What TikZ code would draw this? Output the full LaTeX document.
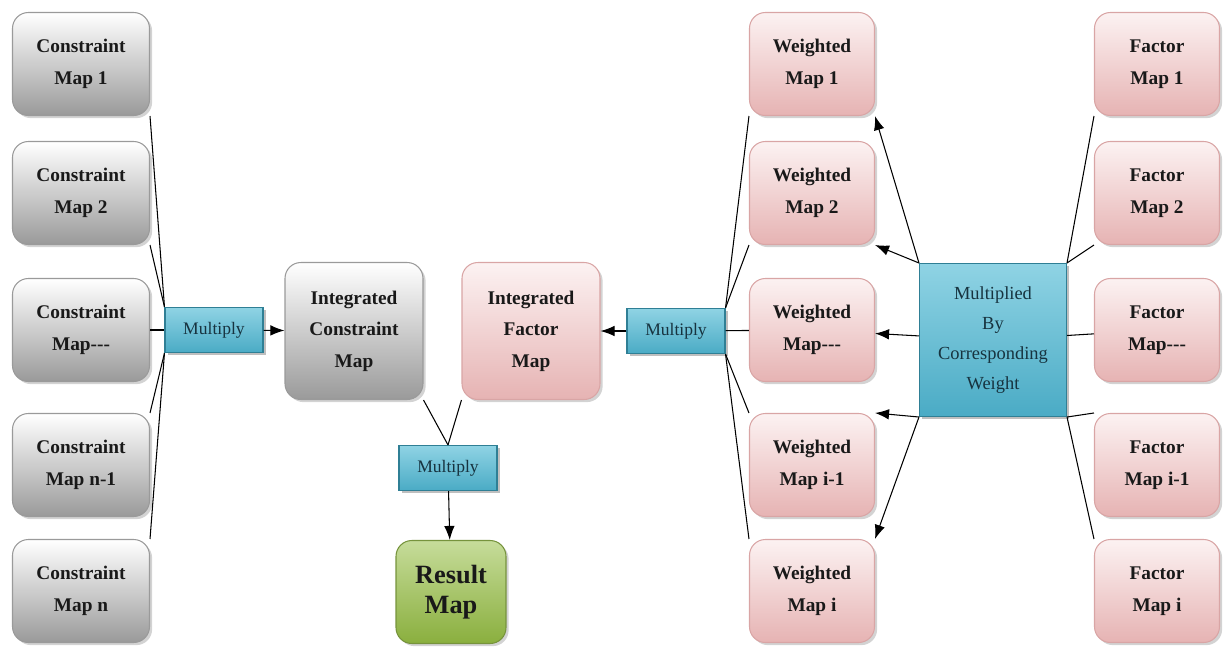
\documentclass[tikz,border=0pt]{standalone}
\usepackage{fontspec}
\setmainfont{Liberation Serif}
\usetikzlibrary{shadows,arrows.meta}

\definecolor{consedge}{HTML}{9A9A9A}
\definecolor{consbot}{HTML}{9A9A9A}
\definecolor{factop}{HTML}{FCF2F2}
\definecolor{facbot}{HTML}{E6B3B3}
\definecolor{facedge}{HTML}{D9A5A5}
\definecolor{multtop}{HTML}{8FD3E4}
\definecolor{multbot}{HTML}{4AABC5}
\definecolor{multedge}{HTML}{2F7F95}
\definecolor{multtext}{HTML}{17333F}
\definecolor{restop}{HTML}{C6DC9A}
\definecolor{resbot}{HTML}{8AAF3E}
\definecolor{resedge}{HTML}{76933C}

\tikzset{
  mapbox/.style={rounded corners=9pt, align=center,
    minimum width=2.74cm, minimum height=2.06cm, text=black!90,
    font=\bfseries\fontsize{11}{18}\selectfont,
    drop shadow={opacity=0.35, shadow xshift=1.5pt, shadow yshift=-1.5pt}},
  constraint/.style={mapbox, draw=consedge, top color=white, bottom color=consbot},
  factor/.style={mapbox, draw=facedge, top color=factop, bottom color=facbot,
    minimum width=2.5cm},
  multbox/.style={draw=multedge, top color=multtop, bottom color=multbot,
    minimum width=1.96cm, minimum height=0.9cm, text=multtext,
    font=\fontsize{10}{12}\selectfont,
    drop shadow={opacity=0.5, shadow xshift=1.5pt, shadow yshift=-1.5pt}},
  result/.style={mapbox, draw=resedge, top color=restop, bottom color=resbot,
    minimum width=2.2cm, font=\bfseries\fontsize{15}{17}\selectfont},
  every path/.style={line width=0.6pt},
  arr/.style={-{Latex[length=8pt,width=6pt]}},
}

\begin{document}
\begin{tikzpicture}[x=0.02cm,y=-0.02cm]
\useasboundingbox (0,0) rectangle (1232,647);

% CONSTRAINT MAPS
\node[constraint] (c1) at (81,64)  {Constraint\\Map 1};
\node[constraint] (c2) at (81,193) {Constraint\\Map 2};
\node[constraint] (c3) at (81,330) {Constraint\\Map-{}-{}-};
\node[constraint] (c4) at (81,465) {Constraint\\Map n-1};
\node[constraint] (c5) at (81,591) {Constraint\\Map n};

% MIDDLE
\node[multbox] (m1) at (214,330) {Multiply};
\node[constraint, minimum width=2.76cm, minimum height=2.74cm] (ic) at (354,331)
  {Integrated\\Constraint\\Map};
\node[factor, minimum width=2.76cm, minimum height=2.74cm] (if) at (531,331)
  {Integrated\\Factor\\Map};
\node[multbox] (m2) at (448,468) {Multiply};
\node[result] (res) at (451,592) {Result\\Map};
\node[multbox] (m3) at (676,331) {Multiply};

% WEIGHTED MAPS
\node[factor] (w1) at (812,64)  {Weighted\\Map 1};
\node[factor] (w2) at (812,193) {Weighted\\Map 2};
\node[factor] (w3) at (812,330) {Weighted\\Map-{}-{}-};
\node[factor] (w4) at (812,465) {Weighted\\Map i-1};
\node[factor] (w5) at (812,591) {Weighted\\Map i};

\node[multbox, minimum width=2.94cm, minimum height=3.06cm,
  font=\fontsize{10.5}{17}\selectfont, align=center] (wt) at (993,340)
  {Multiplied\\By\\Corresponding\\Weight};

% FACTOR MAPS
\node[factor] (f1) at (1157,64)  {Factor\\Map 1};
\node[factor] (f2) at (1157,193) {Factor\\Map 2};
\node[factor] (f3) at (1157,330) {Factor\\Map-{}-{}-};
\node[factor] (f4) at (1157,465) {Factor\\Map i-1};
\node[factor] (f5) at (1157,591) {Factor\\Map i};

% ARROWS

\draw (c1.south east) -- (m1.north west);
\draw (c2.south east) -- (m1.north west);
\draw (c3) -- (m1);
\draw (c4.north east) -- (m1.south west);
\draw (c5.north east) -- (m1.south west);
\draw[arr] (m1) -- (ic);

\draw (ic.south east) -- (m2.north);
\draw (if.south west) -- (m2.north);
\draw[arr] (m2) -- (res);
\draw[arr] (m3) -- (if);

\draw (w1.south west) -- (m3.north east);
\draw (w2.south west) -- (m3.north east);
\draw (w3) -- (m3);
\draw (w4.north west) -- (m3.south east);
\draw (w5.north west) -- (m3.south east);

\draw[arr] (wt.north west) -- (w1.south east);
\draw[arr] (wt.north west) -- (w2.south east);
\draw[arr] (wt) -- (w3);
\draw[arr] (wt.south west) -- (w4.north east);
\draw[arr] (wt.south west) -- (w5.north east);

\draw (f1.south west) -- (wt.north east);
\draw (f2.south west) -- (wt.north east);
\draw (f3) -- (wt);
\draw (f4.north west) -- (wt.south east);
\draw (f5.north west) -- (wt.south east);

\end{tikzpicture}
\end{document}
